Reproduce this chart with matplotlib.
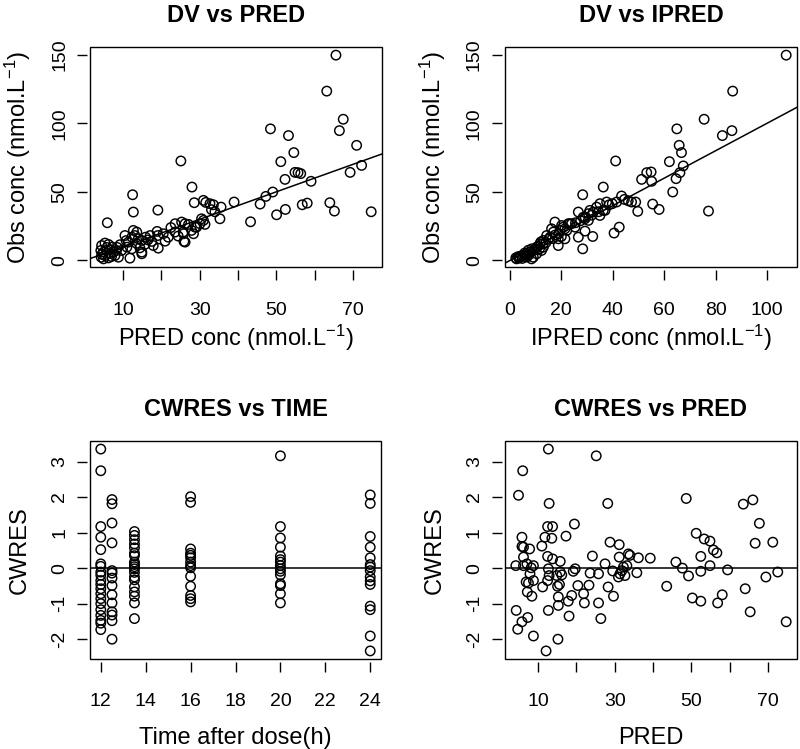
import matplotlib
matplotlib.use('Agg')
import matplotlib.pyplot as plt
from matplotlib.patches import Rectangle

plt.rcParams['font.family'] = ['Liberation Sans', 'DejaVu Sans']
plt.rcParams['mathtext.fontset'] = 'custom'
plt.rcParams['mathtext.rm'] = 'Liberation Sans'
plt.rcParams['mathtext.it'] = 'Liberation Sans:italic'
plt.rcParams['mathtext.bf'] = 'Liberation Sans:bold'

# ---------------- data ----------------
# Panel 1: DV vs PRED
p1_pred = [65.6, 63.2, 67.5, 66.5, 48.5, 53.2, 71.0, 54.6, 51.2, 72.3, 69.3, 54.9, 55.7, 56.4, 52.3,
           59.1, 49.1, 47.3, 45.8, 43.3, 50.1, 52.4, 56.8, 58.1, 64.0, 65.2, 74.8, 25.1, 28.0, 39.0,
           12.5, 12.7, 19.1, 5.9, 28.6, 31.0, 31.6, 32.7, 33.6, 33.1, 34.0, 35.6, 35.3,
           31.0, 30.1, 28.8, 27.9, 26.2, 25.3, 23.6, 25.9, 25.8, 23.6, 21.8, 21.0, 18.9, 19.1, 17.1,
           17.5, 19.2, 17.9, 14.9, 15.9, 15.7,
           12.7, 13.6, 13.1, 14.0, 12.3, 11.4, 10.5, 11.0, 12.3, 14.9, 14.4, 11.8, 9.6,
           4.4, 5.3, 6.2, 4.2, 4.9, 5.7, 6.6, 7.5, 7.9, 8.8, 7.0, 5.3, 4.3, 4.9, 6.2, 8.3, 4.5, 6.8,
           5.8, 7.2,
           14.9, 26.2, 27.1, 29.2, 31.4, 30.5, 28.4, 25.7, 22.5, 20.5, 16.5, 13.5, 10.8, 9.2, 8.5, 24.4]
p1_dv = [149.6, 123.4, 102.9, 94.6, 95.9, 91.0, 83.9, 78.6, 72.0, 69.3, 64.2, 64.2, 64.0, 63.3, 59.1,
         57.7, 49.9, 46.7, 41.1, 28.2, 33.3, 37.2, 40.6, 41.8, 42.1, 36.0, 35.5, 72.5, 53.5, 42.6,
         47.9, 35.3, 36.7, 27.5, 42.1, 43.8, 42.3, 41.4, 40.6, 37.0, 35.5, 38.9, 30.4,
         29.2, 26.8, 24.3, 21.9, 26.8, 28.0, 26.8, 13.9, 19.5, 20.7, 17.0, 14.1, 21.2, 18.2, 18.2,
         13.9, 9.0, 10.9, 14.6, 17.0, 11.7,
         21.9, 20.7, 18.2, 15.8, 17.0, 13.4, 18.2, 9.7, 8.5, 6.1, 9.2, 1.7, 7.3,
         10.9, 12.7, 11.7, 7.3, 6.1, 7.3, 7.8, 6.1, 3.6, 2.4, 2.9, 3.6, 2.4, 1.2, 1.9, 7.3, 4.5, 5.0,
         9.5, 9.8,
         4.9, 13.4, 26.3, 24.3, 26.3, 30.4, 19.5, 20.7, 24.0, 19.5, 15.0, 12.5, 14.5, 11.5, 9.5, 17.8]

# Panel 2: DV vs IPRED
p2_ipred = [107.4, 86.6, 75.5, 86.3, 82.6, 64.9, 65.8, 66.7, 62.0, 67.4, 66.1, 53.2, 54.9, 51.2, 55.1,
            64.6, 63.3, 55.5, 58.0, 77.2, 41.1, 36.3, 28.3, 43.4, 41.5, 37.6, 47.3, 48.9, 49.7, 40.5,
            42.5, 28.3, 32.2, 26.6, 29.2, 26.6,
            39.8, 35.0, 33.7, 36.3, 32.4, 30.5, 29.2, 31.1, 29.2, 30.5, 35.0, 37.0,
            24.0, 22.7, 25.3, 21.4, 20.1, 17.5, 19.5, 18.8, 16.9, 15.6, 14.3, 13.0, 11.7, 10.4, 9.1,
            7.8, 6.5, 5.2, 3.9, 2.6, 2.3, 9.1, 13.0, 18.8, 21.4, 23.3, 20.8, 22.1, 16.2, 12.9, 12.3,
            10.4, 8.4, 6.5, 4.5, 3.2, 5.8, 7.2, 8.5, 11.0, 12.0, 14.0, 15.0, 16.5, 17.5, 19.0, 20.0,
            11.5, 9.8, 6.0, 4.8, 3.5, 7.5,
            25.5, 27.5, 28.5, 31.8, 34.5, 38.5, 44.5, 46.0]
p2_dv = [149.6, 123.4, 102.9, 94.6, 91.0, 95.9, 83.9, 78.6, 72.0, 68.9, 64.0, 64.0, 64.5, 59.1, 57.7,
         59.6, 49.9, 41.1, 37.2, 36.0, 72.5, 53.5, 47.9, 47.0, 42.6, 42.6, 42.6, 42.6, 35.8, 20.0,
         24.3, 8.5, 17.5, 17.0, 21.4, 35.3,
         41.4, 41.4, 38.9, 36.5, 35.3, 34.1, 30.4, 36.5, 31.6, 29.2, 32.8, 36.5,
         26.8, 26.8, 24.3, 23.1, 25.5, 28.0, 21.9, 15.8, 20.7, 17.0, 18.2, 14.6, 12.2, 9.7, 7.3,
         6.1, 4.9, 3.6, 2.4, 1.2, 1.9, 2.4, 9.7, 10.9, 15.8, 26.8, 24.3, 21.9, 23.1, 12.2, 7.3,
         4.9, 1.2, 2.5, 3.5, 2.8, 5.5, 7.5, 8.5, 10.5, 13.5, 13.0, 15.5, 16.0, 18.5, 19.5, 17.5,
         8.5, 8.0, 3.0, 1.5, 1.8, 4.2,
         27.5, 29.0, 31.5, 33.0, 35.5, 40.5, 44.5, 43.5]

# Panel 3: CWRES vs TIME
p3_time = [12, 12, 12, 12, 12, 12, 12, 12, 12, 12, 12, 12, 12, 12, 12, 12, 12, 12, 12, 12,
           12.5, 12.5, 12.5, 12.5, 12.5, 12.5, 12.5, 12.5, 12.5, 12.5, 12.5, 12.5, 12.5, 12.5,
           13.5, 13.5, 13.5, 13.5, 13.5, 13.5, 13.5, 13.5, 13.5, 13.5, 13.5, 13.5, 13.5, 13.5,
           13.5, 13.5, 13.5, 13.5, 13.5,
           16, 16, 16, 16, 16, 16, 16, 16, 16, 16, 16, 16, 16, 16,
           20, 20, 20, 20, 20, 20, 20, 20, 20, 20, 20, 20, 20, 20, 20,
           24, 24, 24, 24, 24, 24, 24, 24, 24, 24, 24, 24, 24, 24, 24]
p3_cwres = [3.35, 2.74, 1.17, 0.87, 0.52, 0.12, 0.05, -0.11, -0.20, -0.35, -0.46, -0.58, -0.72,
            -0.86, -1.00, -1.17, -1.33, -1.47, -1.55, -1.73,
            1.93, 1.81, 1.27, 0.71, -0.07, -0.14, -0.28, -0.49, -0.75, -0.98, -1.23, -1.32, -1.48, -2.00,
            1.03, 0.92, 0.80, 0.68, 0.57, 0.42, 0.35, 0.17, 0.10, 0.04, -0.02, -0.12, -0.25, -0.33,
            -0.53, -0.67, -0.79, -0.98, -1.42,
            2.01, 1.85, 0.54, 0.42, 0.36, 0.29, 0.17, 0.07, 0.01, -0.23, -0.51, -0.77, -0.86, -0.95,
            3.16, 1.17, 0.85, 0.59, 0.34, 0.24, 0.17, 0.07, -0.02, -0.09, -0.19, -0.44, -0.49, -0.72, -0.98,
            2.06, 1.82, 0.89, 0.59, 0.29, 0.10, 0.03, -0.07, -0.25, -0.36, -0.46, -1.07, -1.17, -1.91, -2.33]

# Panel 4: CWRES vs PRED
p4_pred = [12.7, 25.2, 6.0, 4.9, 12.9, 28.2, 48.7, 63.6, 66.1, 67.8, 66.7, 71.3, 19.5, 12.5, 13.8,
           17.3, 5.8, 11.8, 13.6, 5.8, 6.2, 11.0, 7.8, 28.8, 31.2, 51.3, 53.4, 54.9, 55.8, 56.7,
           52.5, 54.9, 39.3, 36.2, 33.6, 34.0, 31.2, 24.2, 27.5, 46.0, 47.7, 49.3, 52.5, 59.5, 69.5,
           72.6, 74.8, 64.1, 65.4, 43.6, 50.3, 52.5, 58.1, 56.9, 35.8, 33.2, 32.3, 31.4, 31.0, 32.7,
           31.9, 29.5, 28.3, 29.7, 25.8, 23.6, 25.8, 26.4, 22.1, 21.9, 23.3, 20.4, 19.7, 19.2, 18.8,
           17.9, 18.1, 15.6, 15.1, 15.8, 16.2, 15.8, 13.8, 12.5, 12.7, 12.9, 12.5, 14.9, 15.3, 15.3,
           12.7, 15.2, 12.1, 11.2, 8.8, 7.5, 6.9, 7.2, 8.4, 7.9, 8.8, 8.2, 7.1, 6.2, 6.2, 4.2, 4.3,
           4.7, 5.8, 7.3, 8.8]
p4_cwres = [3.35, 3.16, 2.74, 2.05, 1.82, 1.82, 1.96, 1.80, 1.92, 1.26, 0.70, 0.73, 1.24, 1.17, 1.17,
            0.90, 0.87, 0.87, 0.84, 0.61, 0.59, 0.62, 0.54, 0.73, 0.66, 0.98, 0.82, 0.76, 0.51, 0.43,
            0.33, 0.07, 0.28, 0.29, 0.40, 0.36, 0.31, 0.34, 0.12, 0.17, 0.00, -0.22, -0.09, -0.05, -0.25,
            -0.11, -1.51, -0.58, -1.23, -0.51, -0.84, -0.93, -0.75, -0.98, -0.13, 0.07, 0.03, -0.16, -0.25, -0.21,
            -0.07, -0.08, -0.53, -0.79, -0.16, -0.14, -0.98, -1.42, -0.98, -0.72, -0.48, -0.49, -0.02, -0.09, -0.77,
            -0.93, -1.35, -0.46, -0.51, -0.11, -0.19, 0.19, 0.26, 0.33, -0.02, -0.21, -0.35, -0.21, -0.81, -1.05,
            -1.19, -2.00, -2.33, -0.53, -0.35, -0.42, -0.39, -0.67, -0.79, -0.16, 0.07, 0.01, 0.12, 0.07, 0.31, 0.07, -1.19,
            -1.72, -1.51, -1.39, -1.91]

titles = ["DV vs PRED", "DV vs IPRED", "CWRES vs TIME", "CWRES vs PRED"]
xlabels = [r"PRED conc (nmol.L$^{-1}$)", r"IPRED conc (nmol.L$^{-1}$)", "Time after dose(h)", "PRED"]
ylabels = [r"Obs conc (nmol.L$^{-1}$)", r"Obs conc (nmol.L$^{-1}$)", "CWRES", "CWRES"]

pred_ticks = [10, 20, 30, 40, 50, 60, 70]
pred_ticklabels = ["10", "", "30", "", "50", "", "70"]
ipred_ticks = [0, 20, 40, 60, 80, 100]
time_ticks = [12, 14, 16, 18, 20, 22, 24]
conc_ticks = [0, 50, 100, 150]
cwres_ticks = [-2, -1, 0, 1, 2, 3]

# ---------------- layout ----------------
W, H = 800, 749
fig = plt.figure(figsize=(W / 100, H / 100), dpi=100)
PT = 0.72  # points per pixel


def add_ax(l, t, r, b):
    return fig.add_axes([l / W, 1 - b / H, (r - l) / W, (b - t) / H])


def rlim(v):
    lo, hi = min(v), max(v)
    d = hi - lo
    return lo - 0.04 * d, hi + 0.04 * d


def style(ax, xt, xtl, yt, title, xlabel, ylabel, xlab_base):
    for s in ['left', 'bottom']:
        ax.spines[s].set_position(('outward', 3 * PT))
        ax.spines[s].set_visible(False)
    ax.spines['top'].set_visible(False)
    ax.spines['right'].set_visible(False)
    ax.add_patch(Rectangle((0, 0), 1, 1, transform=ax.transAxes, fill=False,
                           lw=1.0, ec='black', clip_on=False, zorder=5))
    ax.set_xticks(xt)
    ax.set_xticklabels(xtl)
    ax.set_yticks(yt)
    ax.set_yticklabels([str(v) for v in yt])
    ax.tick_params(axis='both', direction='out', length=10 * PT, width=1.0,
                   labelsize=14, colors='black')
    ax.tick_params(axis='x', pad=34.5 * PT)
    ax.tick_params(axis='y', pad=13 * PT)
    for lab in ax.get_xticklabels():
        lab.set_va('baseline')
    for lab in ax.get_yticklabels():
        lab.set_rotation(90)
        lab.set_rotation_mode('anchor')
        lab.set_ha('center')
        lab.set_va('baseline')
    ax.set_title(title, fontsize=17, fontweight='bold', pad=25 * PT)
    ax.annotate(xlabel, xy=(0.5, 0), xycoords='axes fraction',
                xytext=(0, -xlab_base * PT), textcoords='offset points',
                ha='center', va='baseline', fontsize=17, annotation_clip=False)
    ax.annotate(ylabel, xy=(0, 0.5), xycoords='axes fraction',
                xytext=(-64 * PT, 0), textcoords='offset points',
                ha='center', va='baseline', rotation=90, rotation_mode='anchor',
                fontsize=17, annotation_clip=False)


mk = dict(s=46, facecolors='none', edgecolors='black', linewidths=1.05, zorder=3)

ax1 = add_ax(90, 47, 382, 267)
ax1.scatter(p1_pred, p1_dv, **mk)
ax1.set_xlim(*rlim(p1_pred))
ax1.set_ylim(*rlim(p1_dv))
ax1.axline((0, 0), slope=1, color='black', lw=1.1, zorder=2)
style(ax1, pred_ticks, pred_ticklabels, conc_ticks, titles[0], xlabels[0], ylabels[0], 79)

ax2 = add_ax(505, 47, 797, 267)
ax2.scatter(p2_ipred, p2_dv, **mk)
ax2.set_xlim(*rlim(p2_ipred))
ax2.set_ylim(*rlim(p2_dv))
ax2.axline((0, 0), slope=1, color='black', lw=1.1, zorder=2)
style(ax2, ipred_ticks, [str(v) for v in ipred_ticks], conc_ticks, titles[1], xlabels[1], ylabels[1], 79)

ax3 = add_ax(90, 441, 381, 659)
ax3.scatter(p3_time, p3_cwres, **mk)
ax3.set_xlim(*rlim(p3_time))
ax3.set_ylim(*rlim(p3_cwres))
ax3.axhline(0, color='black', lw=1.1, zorder=2)
style(ax3, time_ticks, [str(v) for v in time_ticks], cwres_ticks, titles[2], xlabels[2], ylabels[2], 85)

ax4 = add_ax(505, 441, 797, 659)
ax4.scatter(p4_pred, p4_cwres, **mk)
ax4.set_xlim(*rlim(p4_pred))
ax4.set_ylim(*rlim(p4_cwres))
ax4.axhline(0, color='black', lw=1.1, zorder=2)
style(ax4, pred_ticks, pred_ticklabels, cwres_ticks, titles[3], xlabels[3], ylabels[3], 85)

fig.savefig('out.png', dpi=100)
